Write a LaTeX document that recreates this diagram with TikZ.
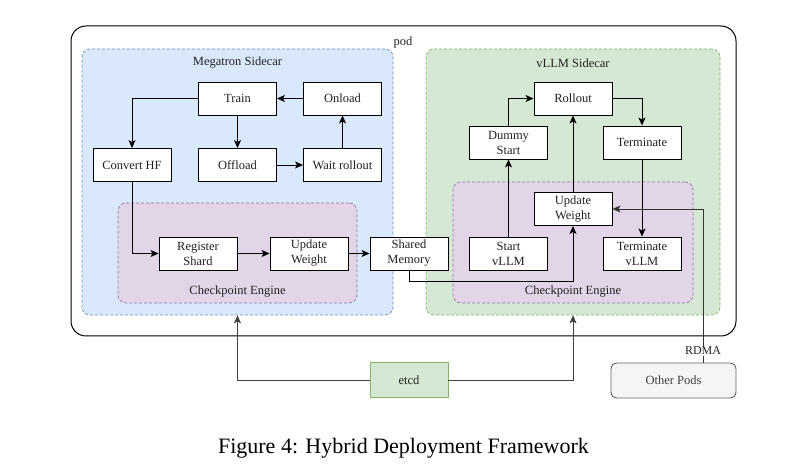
\documentclass[tikz,border=0pt]{standalone}
\usepackage{fontspec}
\setmainfont{Liberation Serif}
\usetikzlibrary{arrows.meta,calc}
\definecolor{bluef}{HTML}{DAE8FC}
\definecolor{blued}{HTML}{6C8EBF}
\definecolor{greenf}{HTML}{D5E8D4}
\definecolor{greend}{HTML}{82B366}
\definecolor{purf}{HTML}{E1D5E7}
\definecolor{purd}{HTML}{9673A6}
\definecolor{grayf}{HTML}{F5F5F5}
\definecolor{grayd}{HTML}{666666}
\definecolor{txt}{HTML}{222222}
\begin{document}
\begin{tikzpicture}[x=1pt,y=-1pt,
  font=\fontsize{12.5}{15}\selectfont, text=txt,
  box/.style={draw=black, fill=white, line width=0.9pt, minimum width=78pt, minimum height=33pt, inner sep=0pt, align=center},
  region/.style={rounded corners=8pt, line width=0.7pt, dash pattern=on 3pt off 2pt, inner sep=0pt},
  arr/.style={-{Stealth[length=8pt,width=7pt,inset=2pt]}, line width=0.9pt},
  ttl/.style={inner sep=1pt}
]
\useasboundingbox[fill=white] (0,0) rectangle (788,470);
% pod
\node[draw=black, line width=1pt, rounded corners=15pt, minimum width=665pt, minimum height=310pt] (pod) at (403.5,181) {};
\node[ttl] (podl) at (403,42) {pod};
% sidecars
\node[region, draw=blued, fill=bluef, minimum width=311pt, minimum height=266pt] (meg) at (237.5,182) {};
\node[region, draw=greend, fill=greenf, minimum width=294pt, minimum height=266pt] (vll) at (573,182) {};
\node[ttl] (megt) at (237.5,63) {Megatron Sidecar};
\node[ttl] (vllt) at (573,63) {vLLM Sidecar};
% checkpoint engines
\node[region, draw=purd, fill=purf, minimum width=239pt, minimum height=100pt] (ckL) at (237.5,253) {};
\node[region, draw=purd, fill=purf, minimum width=240pt, minimum height=121pt] (ckR) at (573,242.5) {};
\node[ttl] (ckLt) at (237.5,292) {Checkpoint Engine};
\node[ttl] (ckRt) at (573,292) {Checkpoint Engine};
% left boxes
\node[box] (train) at (237.5,98.5) {Train};
\node[box] (onload) at (342.5,98.5) {Onload};
\node[box] (conv) at (132,165) {Convert HF};
\node[box] (off) at (237.5,165) {Offload};
\node[box] (wait) at (342.5,165) {Wait rollout};
\node[box] (reg) at (198,253.5) {Register\\Shard};
\node[box] (updL) at (309,253.5) {Update\\Weight};
\node[box] (shm) at (409,253.5) {Shared\\Memory};
% right boxes
\node[box] (roll) at (573,98.5) {Rollout};
\node[box] (dummy) at (508.5,142.5) {Dummy\\Start};
\node[box] (term) at (642,142.5) {Terminate};
\node[box] (updR) at (573,209) {Update\\Weight};
\node[box] (start) at (508.5,253.5) {Start\\vLLM};
\node[box] (termv) at (642,253.5) {Terminate\\vLLM};
% bottom
\node[draw=greend, fill=greenf, line width=0.9pt, minimum width=78pt, minimum height=35pt, inner sep=0pt] (etcd) at (409,380) {etcd};
\node[draw=grayd, fill=grayf, rounded corners=6pt, line width=0.9pt, minimum width=125pt, minimum height=35pt, inner sep=0pt, text=black!75] (other) at (673.5,380.5) {Other Pods};
% arrows left
\draw[arr] (train.west) -| (conv.north);
\draw[arr] (train) -- (off);
\draw[arr] (off) -- (wait);
\draw[arr] (wait) -- (onload);
\draw[arr] (onload) -- (train);
\draw[arr] (conv.south) |- (reg.west);
\draw[arr] (reg) -- (updL);
\draw[arr] (updL) -- (shm);
\draw[arr] (shm.south) -- ++(0,11) -| (updR.south);
% arrows right
\draw[arr] (dummy.north) |- (roll.west);
\draw[arr] (roll.east) -| (term.north);
\draw[arr] (term) -- (termv);
\draw[arr] (start) -- (dummy);
\draw[arr] (updR) -- (roll);
\draw[arr, draw=black!80] ([xshift=29.5pt]other.north) |- (updR.east);
\node[fill=white, inner sep=1pt, font=\fontsize{12}{14}\selectfont] (rdma) at (703,351) {RDMA};
% etcd
\draw[arr, draw=black!75] (etcd.west) -| (meg.south);
\draw[arr, draw=black!75] (etcd.east) -| (vll.south);
% caption
\node[inner sep=0pt, font=\fontsize{22}{26}\selectfont, text=black] (cap) at (403.5,448) {Figure 4: Hybrid Deployment Framework};
\end{tikzpicture}
\end{document}
